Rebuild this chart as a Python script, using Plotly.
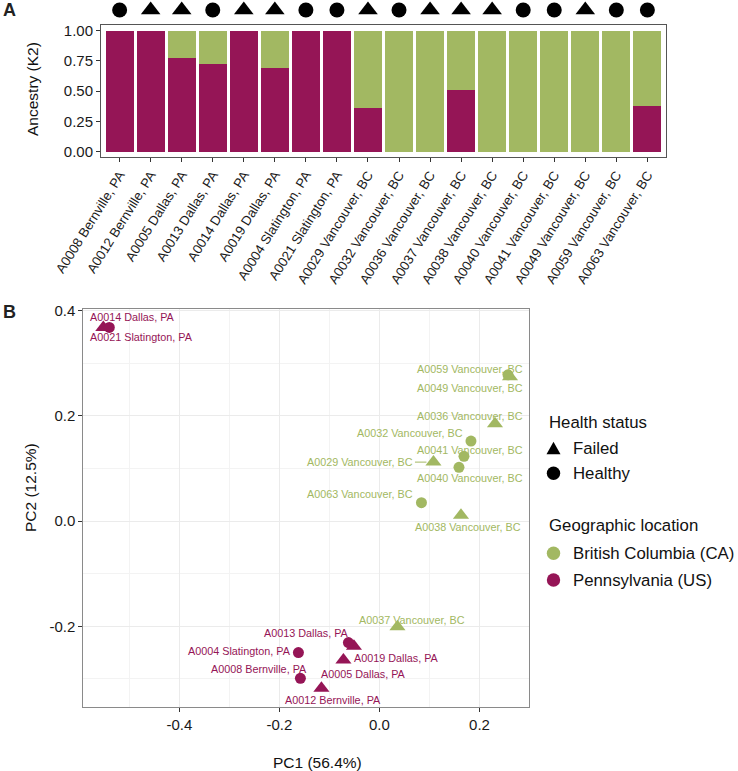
import plotly.graph_objects as go

# ---------------- data ----------------
samples = [
    "A0008 Bernville, PA", "A0012 Bernville, PA", "A0005 Dallas, PA", "A0013 Dallas, PA",
    "A0014 Dallas, PA", "A0019 Dallas, PA", "A0004 Slatington, PA", "A0021 Slatington, PA",
    "A0029 Vancouver, BC", "A0032 Vancouver, BC", "A0036 Vancouver, BC", "A0037 Vancouver, BC",
    "A0038 Vancouver, BC", "A0040 Vancouver, BC", "A0041 Vancouver, BC", "A0049 Vancouver, BC",
    "A0059 Vancouver, BC", "A0063 Vancouver, BC",
]
pa_ancestry = [1.00, 1.00, 0.772, 0.727, 1.00, 0.694, 1.00, 1.00, 0.361,
               0.00, 0.00, 0.507, 0.00, 0.00, 0.00, 0.00, 0.00, 0.378]
bc_ancestry = [0.00, 0.00, 0.228, 0.273, 0.00, 0.306, 0.00, 0.00, 0.639,
               1.00, 1.00, 0.493, 1.00, 1.00, 1.00, 1.00, 1.00, 0.622]
health = ["Healthy", "Failed", "Failed", "Healthy", "Failed", "Failed", "Healthy", "Healthy",
          "Failed", "Healthy", "Failed", "Failed", "Failed", "Healthy", "Healthy", "Failed",
          "Healthy", "Healthy"]
region = ["PA", "PA", "PA", "PA", "PA", "PA", "PA", "PA",
          "BC", "BC", "BC", "BC", "BC", "BC", "BC", "BC", "BC", "BC"]
pc1 = [-0.158, -0.116, -0.072, -0.062, -0.552, -0.051, -0.162, -0.540,
       0.108, 0.183, 0.231, 0.036, 0.163, 0.159, 0.169, 0.261, 0.257, 0.084]
pc2 = [-0.299, -0.318, -0.264, -0.231, 0.368, -0.238, -0.250, 0.368,
       0.112, 0.152, 0.185, -0.201, 0.011, 0.102, 0.123, 0.274, 0.278, 0.035]

k2_ticks = [0, 0.25, 0.5, 0.75, 1.0]
k2_ticktext = ["0.00", "0.25", "0.50", "0.75", "1.00"]
pc1_ticks = [-0.4, -0.2, 0.0, 0.2]
pc1_ticktext = ["-0.4", "-0.2", "0.0", "0.2"]
pc2_ticks = [-0.2, 0.0, 0.2, 0.4]
pc2_ticktext = ["-0.2", "0.0", "0.2", "0.4"]

health_names = ["Failed", "Healthy"]
region_keys = ["BC", "PA"]
region_names = {"BC": "British Columbia (CA)", "PA": "Pennsylvania (US)"}

# ---------------- style ----------------
GREEN = "#A2B862"
MAGENTA = "#951556"
FONT = "Liberation Sans, Arial, sans-serif"
W, H = 738, 771
sym = {"Failed": "triangle-up", "Healthy": "circle"}
col = {"BC": GREEN, "PA": MAGENTA}

# label placement (pixels relative to point): xshift, yshift, xanchor
label_pos = {
    "A0014 Dallas, PA": (-15, 10, "left"),
    "A0021 Slatington, PA": (-21, -10, "left"),
    "A0059 Vancouver, BC": (17, 6, "right"),
    "A0049 Vancouver, BC": (15, -11.4, "right"),
    "A0036 Vancouver, BC": (30, 8, "right"),
    "A0032 Vancouver, BC": (-6, 8.3, "right"),
    "A0041 Vancouver, BC": (61, 6, "right"),
    "A0040 Vancouver, BC": (66, -11, "right"),
    "A0063 Vancouver, BC": (-6.5, 8.6, "right"),
    "A0038 Vancouver, BC": (62, -11.5, "right"),
    "A0037 Vancouver, BC": (14.5, 6.7, "center"),
    "A0013 Dallas, PA": (2.2, 9.2, "right"),
    "A0004 Slatington, PA": (-5.2, 1.8, "right"),
    "A0008 Bernville, PA": (8.8, 9, "right"),
    "A0019 Dallas, PA": (-2.3, -11.5, "left"),
    "A0005 Dallas, PA": (-24.5, -14.4, "left"),
    "A0012 Bernville, PA": (11.5, -11.7, "center"),
}
arrow_labels = {"A0029 Vancouver, BC": (-73, 0)}
LABEL_SIZE = 10.8


def px_x(p):
    return p / W


def px_y(p):
    return 1 - p / H


fig = go.Figure()

# ---- panel A: stacked bars ----
fig.add_trace(go.Bar(x=samples, y=pa_ancestry, marker=dict(color=MAGENTA, line_width=0),
                     width=0.9, xaxis="x", yaxis="y", showlegend=False))
fig.add_trace(go.Bar(x=samples, y=bc_ancestry, marker=dict(color=GREEN, line_width=0),
                     width=0.9, xaxis="x", yaxis="y", showlegend=False))
# health shapes row above bars
fig.add_trace(go.Scatter(
    x=samples, y=[0.5] * len(samples), mode="markers", xaxis="x", yaxis="y3",
    marker=dict(color="#000000", opacity=1, symbol=[sym[h] for h in health],
                size=[17 if h == "Failed" else 15 for h in health], line_width=0),
    showlegend=False, cliponaxis=False))

# ---- panel B: PCA ----
for reg in region_keys:
    for h in health_names:
        idx = [i for i in range(len(samples)) if region[i] == reg and health[i] == h]
        if not idx:
            continue
        fig.add_trace(go.Scatter(
            x=[pc1[i] for i in idx], y=[pc2[i] for i in idx], mode="markers",
            xaxis="x2", yaxis="y2", showlegend=False,
            marker=dict(color=col[reg], opacity=1, symbol=sym[h],
                        size=14 if h == "Failed" else 11, line_width=0)))

annotations = []
for i, s in enumerate(samples):
    c = col[region[i]]
    if s in label_pos:
        dx, dy, anc = label_pos[s]
        annotations.append(dict(x=pc1[i], y=pc2[i], xref="x2", yref="y2", text=s,
                                showarrow=False, xshift=dx, yshift=dy, xanchor=anc,
                                yanchor="middle",
                                font=dict(size=LABEL_SIZE, color=c, family=FONT)))
    elif s in arrow_labels:
        ax, ay = arrow_labels[s]
        annotations.append(dict(x=pc1[i], y=pc2[i], xref="x2", yref="y2", text=s,
                                showarrow=True, ax=ax, ay=ay, arrowhead=0, arrowwidth=1,
                                arrowcolor=c, standoff=7,
                                font=dict(size=LABEL_SIZE, color=c, family=FONT)))

# axis titles and panel letters
annotations += [
    dict(text="Ancestry (K2)", x=px_x(32), y=px_y(89), xref="paper", yref="paper",
         xanchor="center", yanchor="middle", textangle=-90, showarrow=False,
         font=dict(size=15.5, color="#111", family=FONT)),
    dict(text="PC2 (12.5%)", x=px_x(30), y=px_y(488), xref="paper", yref="paper",
         xanchor="center", yanchor="middle", textangle=-90, showarrow=False,
         font=dict(size=15.5, color="#111", family=FONT)),
    dict(text="PC1 (56.4%)", x=px_x(317), y=px_y(762), xref="paper", yref="paper",
         xanchor="center", yanchor="middle", showarrow=False,
         font=dict(size=15.5, color="#111", family=FONT)),
    dict(text="<b>A</b>", x=px_x(9), y=px_y(10.5), xref="paper", yref="paper",
         xanchor="center", yanchor="middle", showarrow=False,
         font=dict(size=18, color="#222", family=FONT)),
    dict(text="<b>B</b>", x=px_x(9), y=px_y(311.5), xref="paper", yref="paper",
         xanchor="center", yanchor="middle", showarrow=False,
         font=dict(size=18, color="#222", family=FONT)),
]

# ---- manual legend ----
LEG_X_TITLE = 546.7
LEG_X_KEY = 553.5
LEG_X_TEXT = 570.5
legend_rows = [
    ("title", "Health status", None, None, 422),
    ("item", "Failed", "Failed", "#000000", 448),
    ("item", "Healthy", "Healthy", "#000000", 473.3),
    ("title", "Geographic location", None, None, 525),
    ("item", region_names["BC"], "Healthy", GREEN, 553.3),
    ("item", region_names["PA"], "Healthy", MAGENTA, 580),
]
shapes = []
for kind, text, hk, c, yy in legend_rows:
    xt = LEG_X_TITLE if kind == "title" else LEG_X_TEXT
    annotations.append(dict(text=text, x=px_x(xt), y=px_y(yy), xref="paper",
                            yref="paper", xanchor="left", yanchor="middle", showarrow=False,
                            font=dict(size=16.8, color="#111", family=FONT)))
    if kind == "item":
        if hk == "Healthy":
            r = 6.7
            shapes.append(dict(type="circle", xref="paper", yref="paper",
                               x0=px_x(LEG_X_KEY - r), x1=px_x(LEG_X_KEY + r),
                               y0=px_y(yy + r), y1=px_y(yy - r),
                               fillcolor=c, line_width=0))
        else:
            hw, hh = 7, 6.2
            path = "M {:.4f},{:.4f} L {:.4f},{:.4f} L {:.4f},{:.4f} Z".format(
                px_x(LEG_X_KEY - hw), px_y(yy + hh), px_x(LEG_X_KEY + hw), px_y(yy + hh),
                px_x(LEG_X_KEY), px_y(yy - hh))
            shapes.append(dict(type="path", xref="paper", yref="paper", path=path,
                               fillcolor=c, line_width=0))

tickfont = dict(size=15, color="#1a1a1a", family=FONT)

fig.update_layout(
    width=W, height=H, margin=dict(l=0, r=0, t=0, b=0, autoexpand=False),
    paper_bgcolor="white", plot_bgcolor="white",
    barmode="stack", bargap=0.1, showlegend=False,
    font=dict(family=FONT, color="#111"),
    xaxis=dict(domain=[px_x(101), px_x(666)], anchor="y", type="category", automargin=False,
               range=[-0.6, 17.6], tickangle=-58, showgrid=False, zeroline=False,
               ticks="outside", ticklen=4, tickcolor="#333", showline=True, mirror=True,
               linecolor="#555", tickfont=dict(size=13.3, color="#1a1a1a", family=FONT)),
    yaxis=dict(domain=[px_y(157), px_y(25)], anchor="x", range=[-0.045, 1.047],
               automargin=False, tickvals=k2_ticks, ticktext=k2_ticktext, showgrid=False,
               zeroline=False, ticks="outside", ticklen=4, tickcolor="#333", showline=True,
               mirror=True, linecolor="#555", tickfont=tickfont),
    yaxis3=dict(domain=[px_y(20), 1.0], anchor="x", range=[0, 1], visible=False,
                automargin=False, fixedrange=True),
    xaxis2=dict(domain=[px_x(83.3), px_x(529.3)], anchor="y2", range=[-0.592, 0.2996],
                automargin=False, tickvals=pc1_ticks, ticktext=pc1_ticktext,
                ticks="outside", ticklen=4, tickcolor="#333", showline=True, mirror=True,
                linecolor="#8a8a8a", zeroline=False, tickfont=tickfont,
                showgrid=True, gridcolor="#EBEBEB", gridwidth=1,
                minor=dict(dtick=0.1, tick0=0, showgrid=True, gridcolor="#F3F3F3",
                           gridwidth=1, ticks="")),
    yaxis2=dict(domain=[px_y(707.3), px_y(309)], anchor="x2", range=[-0.354, 0.403],
                automargin=False, tickvals=pc2_ticks, ticktext=pc2_ticktext,
                ticks="outside", ticklen=4, tickcolor="#333", showline=True, mirror=True,
                linecolor="#8a8a8a", zeroline=False, tickfont=tickfont,
                showgrid=True, gridcolor="#EBEBEB", gridwidth=1,
                minor=dict(dtick=0.1, tick0=0, showgrid=True, gridcolor="#F3F3F3",
                           gridwidth=1, ticks="")),
    annotations=annotations,
    shapes=shapes,
)

fig.write_html("out.html", config={"displayModeBar": False},
               post_script="document.body.style.margin='0';")
